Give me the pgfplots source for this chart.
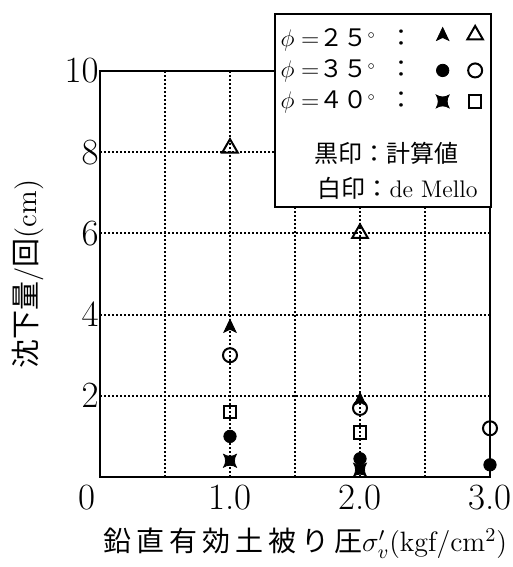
\RequirePackage{fix-cm}
\documentclass[border=0pt]{standalone}
\usepackage{fontspec}
\usepackage{pgfplots}
\pgfplotsset{compat=1.18}
\usetikzlibrary{plotmarks}
\newfontfamily\cjk{Noto Sans CJK JP}

\pgfdeclareplotmark{ctri}{%
 \pgfpathmoveto{\pgfpoint{0pt}{1.15\pgfplotmarksize}}%
 \pgfpathlineto{\pgfpoint{-0.95\pgfplotmarksize}{-0.85\pgfplotmarksize}}%
 \pgfpathlineto{\pgfpoint{0pt}{-0.4\pgfplotmarksize}}%
 \pgfpathlineto{\pgfpoint{0.95\pgfplotmarksize}{-0.85\pgfplotmarksize}}%
 \pgfpathclose
 \pgfusepathqfillstroke}
\pgfdeclareplotmark{csq}{%
 \pgfpathmoveto{\pgfpoint{-\pgfplotmarksize}{-\pgfplotmarksize}}%
 \pgfpathcurveto{\pgfpoint{-0.4\pgfplotmarksize}{-0.6\pgfplotmarksize}}{\pgfpoint{0.4\pgfplotmarksize}{-0.6\pgfplotmarksize}}{\pgfpoint{\pgfplotmarksize}{-\pgfplotmarksize}}%
 \pgfpathcurveto{\pgfpoint{0.6\pgfplotmarksize}{-0.4\pgfplotmarksize}}{\pgfpoint{0.6\pgfplotmarksize}{0.4\pgfplotmarksize}}{\pgfpoint{\pgfplotmarksize}{\pgfplotmarksize}}%
 \pgfpathcurveto{\pgfpoint{0.4\pgfplotmarksize}{0.6\pgfplotmarksize}}{\pgfpoint{-0.4\pgfplotmarksize}{0.6\pgfplotmarksize}}{\pgfpoint{-\pgfplotmarksize}{\pgfplotmarksize}}%
 \pgfpathcurveto{\pgfpoint{-0.6\pgfplotmarksize}{0.4\pgfplotmarksize}}{\pgfpoint{-0.6\pgfplotmarksize}{-0.4\pgfplotmarksize}}{\pgfpoint{-\pgfplotmarksize}{-\pgfplotmarksize}}%
 \pgfpathclose
 \pgfusepathqfillstroke}

\pgfplotsset{
 sA/.style={only marks, mark=ctri, mark size=3.2pt, mark options={draw=black, fill=black, line width=0.4pt}},
 sB/.style={only marks, mark=triangle, mark size=4.5pt, mark options={draw=black, fill=none, line width=1pt}},
 sC/.style={only marks, mark=*, mark size=3.1pt, mark options={draw=black, fill=black, line width=0.4pt}},
 sD/.style={only marks, mark=o, mark size=3.5pt, mark options={draw=black, fill=none, line width=1pt}},
 sE/.style={only marks, mark=csq, mark size=3.2pt, mark options={draw=black, fill=black, line width=0.4pt}},
 sF/.style={only marks, mark=square, mark size=3.1pt, mark options={draw=black, fill=none, line width=1pt}},
}
\newcommand\lst[1]{\rule[-3pt]{0pt}{#1}}
\newcommand\csp{\hspace{2.5pt}}
\newcommand\dg{$^{\scriptscriptstyle\circ}$}

\begin{document}
\begin{tikzpicture}
\useasboundingbox (-50pt,-45pt) rectangle (206.5pt,238.5pt);
\begin{axis}[
 scale only axis, width=195pt, height=203pt,
 xmin=0, xmax=3, ymin=0, ymax=10,
 clip=false,
 axis line style={line width=1pt},
 xtick={1,2,3}, xticklabels={1.0,2.0,3.0},
 extra x ticks={0}, extra x tick labels={0},
 extra x tick style={grid=none, xticklabel style={xshift=-6.5pt}},
 minor xtick={0.5,1.5,2.5},
 ytick={2,4,6,8,10},
 grid=both,
 major grid style={black, line width=1pt, dash pattern=on 1pt off 1pt},
 minor grid style={black, line width=1pt, dash pattern=on 1pt off 1pt},
 major tick length=0pt, minor tick length=0pt,
 tick label style={font=\fontsize{18.5}{20}\selectfont},
 xticklabel style={inner sep=0pt, yshift=-4pt},
 yticklabel style={inner sep=0pt, xshift=-0.5pt},
 xlabel={{\fontsize{14}{16}\cjk 鉛\csp 直\csp 有\csp 効\csp 土\csp 被\csp り\csp 圧}{\fontsize{14}{16}\selectfont$\sigma'_v$(kgf/cm$^2$)}},
 xlabel style={at={(axis description cs:0.526,-0.163)}, anchor=center, inner sep=0pt},
 ylabel={\fontsize{14.5}{16}\selectfont{\cjk 沈下量}/{\cjk 回}(cm)},
 ylabel style={at={(axis description cs:-0.185,0.5)}, anchor=center, inner sep=0pt},
 legend columns=2,
 legend plot pos=right,
 legend cell align=left,
 legend style={at={(axis description cs:1.005,1.143)}, anchor=north east,
   draw=black, line width=1pt, fill=white,
   inner xsep=4pt, inner ysep=3pt,
   column sep=1.75pt, row sep=5pt,
   nodes={inner sep=0pt},
   font=\fontsize{12}{14}\selectfont},
]
\addlegendimage{sA}
\addlegendentry{\lst{16.5pt}\hspace*{-1pt}$\phi=${\cjk ２５}\dg\hspace{6.5pt}{\cjk ：}\hspace*{4.5pt}}
\addlegendimage{sB}
\addlegendentry{}
\addlegendimage{sC}
\addlegendentry{\lst{12pt}\hspace*{-1pt}$\phi=${\cjk ３５}\dg\hspace{6.5pt}{\cjk ：}\hspace*{4.5pt}}
\addlegendimage{sD}
\addlegendentry{}
\addlegendimage{sE}
\addlegendentry{\lst{12pt}\hspace*{-1pt}$\phi=${\cjk ４０}\dg\hspace{6.5pt}{\cjk ：}\hspace*{4.5pt}}
\addlegendimage{sF}
\addlegendentry{}
\addlegendimage{empty legend}
\addlegendentry{\lst{23.5pt}\hspace*{16pt}\rlap{\cjk 黒印：計算値}}
\addlegendimage{empty legend}
\addlegendentry{}
\addlegendimage{empty legend}
\addlegendentry{\lst{14pt}\hspace*{17.5pt}\rlap{{\cjk 白印：}de Mello}}
\addlegendimage{empty legend}
\addlegendentry{}

\addplot[sA, forget plot] coordinates {(1,3.7) (2,1.9)};
\addplot[sB, forget plot] coordinates {(1,8.1) (2,6.0)};
\addplot[sC, forget plot] coordinates {(1,1.0) (2,0.45) (3,0.3)};
\addplot[sD, forget plot] coordinates {(1,3.0) (2,1.7) (3,1.2)};
\addplot[sE, forget plot] coordinates {(1,0.4) (2,0.18)};
\addplot[sF, forget plot] coordinates {(1,1.6) (2,1.1)};
\end{axis}
\end{tikzpicture}
\end{document}
